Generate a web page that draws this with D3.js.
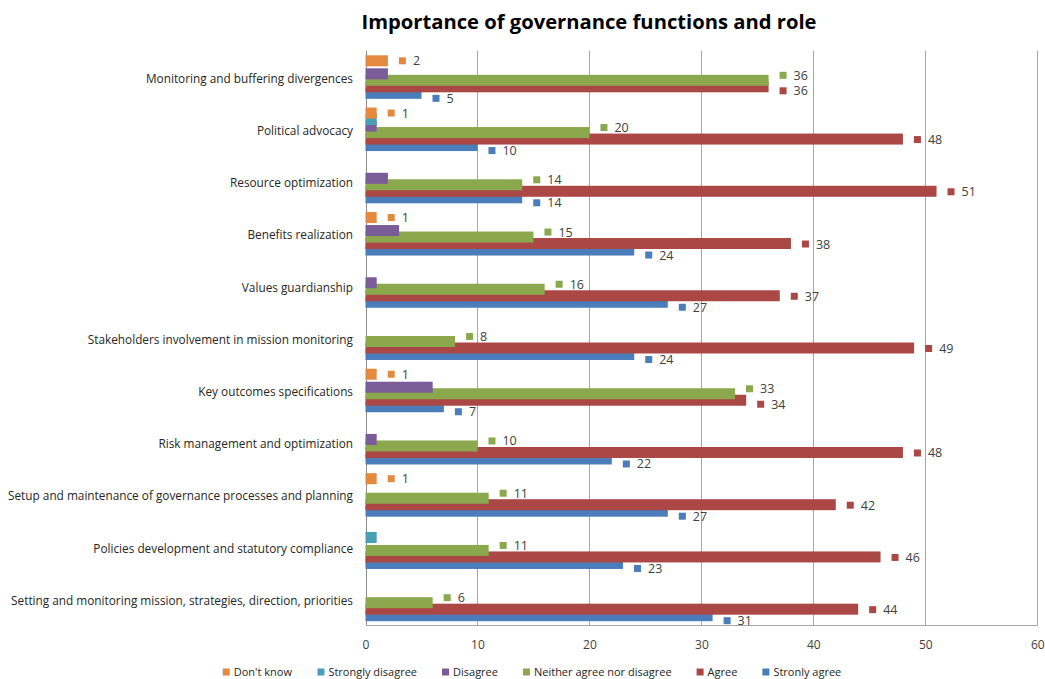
<!DOCTYPE html>
<html>
<head>
<meta charset="utf-8">
<script src="https://cdn.jsdelivr.net/npm/d3@7"></script>
<style>
  html, body { margin: 0; padding: 0; background: #fff; }
  svg { display: block; font-family: "Open Sans", "Liberation Sans", Arial, sans-serif; }
</style>
</head>
<body>
<svg id="chart" width="1045" height="679"></svg>
<script>
const categories = [
  "Monitoring and buffering divergences",
  "Political advocacy",
  "Resource optimization",
  "Benefits realization",
  "Values guardianship",
  "Stakeholders involvement in mission monitoring",
  "Key outcomes specifications",
  "Risk management and optimization ",
  "Setup and maintenance of governance processes and planning",
  "Policies development and statutory compliance",
  "Setting and monitoring mission, strategies, direction, priorities"
];
const seriesNames = ["Don't know", "Strongly disagree", "Disagree", "Neither agree nor disagree", "Agree", "Stronly agree"];
const dontKnow        = [2, 1, 0, 1, 0, 0, 1, 0, 1, 0, 0];
const stronglyDisagree= [0, 1, 0, 0, 0, 0, 0, 0, 0, 1, 0];
const disagree        = [2, 1, 2, 3, 1, 0, 6, 1, 0, 0, 0];
const neither         = [36, 20, 14, 15, 16, 8, 33, 10, 11, 11, 6];
const agree           = [36, 48, 51, 38, 37, 49, 34, 48, 42, 46, 44];
const stronglyAgree   = [5, 10, 14, 24, 27, 24, 7, 22, 27, 23, 31];
const xTicks = [0, 10, 20, 30, 40, 50, 60];
const title = "Importance of governance functions and role";

const seriesValues = [dontKnow, stronglyDisagree, disagree, neither, agree, stronglyAgree];
const colors = ["#E5893F", "#4A9FB5", "#7A5C99", "#8CA84E", "#AB4845", "#4A7DBA"];
const showLabel = [true, false, false, true, true, true];
const FONT = "Open Sans, Liberation Sans, Arial, sans-serif";

const svg = d3.select("#chart");
const plotLeft = 365.5, plotRight = 1037.3, plotTop = 50.7, plotBottom = 625.3;

const x = d3.scaleLinear().domain([0, 60]).range([plotLeft, plotRight]);
const y = d3.scaleBand().domain(categories).range([plotTop, plotBottom]).padding(0);
const bw = y.bandwidth();
const k = bw / 52.24;
const barOffset = d3.scaleLinear().domain([0, 5]).range([-21.5 * k, 11 * k]);
const barH = 11 * k;
const labelOffset = [-16, 0, 0, -1.5, 10.5, 21.5];

svg.append("text")
  .attr("x", 589).attr("y", 29)
  .attr("text-anchor", "middle")
  .attr("font-size", 20.2).attr("font-weight", "bold")
  .attr("fill", "#000")
  .text(title);

const grid = svg.append("g");
xTicks.forEach(t => {
  const gx = Math.round(x(t)) + 0.5;
  grid.append("line")
    .attr("x1", gx).attr("x2", gx)
    .attr("y1", plotTop).attr("y2", plotBottom)
    .attr("stroke", t === 0 ? "#8c8c8c" : "#a6a6a6").attr("stroke-width", 1);
});
grid.append("line")
  .attr("x1", Math.round(x(0)) + 0.5).attr("x2", Math.round(x(60)) + 0.5)
  .attr("y1", Math.round(plotBottom) + 0.5).attr("y2", Math.round(plotBottom) + 0.5)
  .attr("stroke", "#a6a6a6");

const xAxis = d3.axisBottom(x).tickValues(xTicks).tickSize(0).tickPadding(0);
const xg = svg.append("g").attr("transform", `translate(0,${plotBottom + 14})`).call(xAxis);
xg.select(".domain").remove();
xg.selectAll("text").attr("font-size", 12).attr("fill", "#404040")
  .attr("font-family", FONT).attr("dy", "0.8em");

const yAxis = d3.axisLeft(y).tickSize(0).tickPadding(0);
const yg = svg.append("g").attr("transform", `translate(353,0)`).call(yAxis);
yg.select(".domain").remove();
yg.selectAll("text").attr("font-size", 11.8).attr("fill", "#262626")
  .attr("font-family", FONT)
  .attr("dy", "0.32em")
  .attr("transform", "translate(0,2)");

const barsG = svg.append("g");
for (let s = 5; s >= 0; s--) {
  const data = categories.map((c, i) => ({ c, v: seriesValues[s][i] })).filter(d => d.v > 0);
  barsG.selectAll(null).data(data).enter().append("rect")
    .attr("x", x(0))
    .attr("y", d => y(d.c) + bw / 2 + barOffset(s))
    .attr("width", d => x(d.v) - x(0))
    .attr("height", barH)
    .attr("fill", colors[s]);
}

const labG = svg.append("g");
for (let s = 0; s < 6; s++) {
  if (!showLabel[s]) continue;
  categories.forEach((c, i) => {
    const v = seriesValues[s][i];
    if (v <= 0) return;
    let off = labelOffset[s];
    if (s === 4 && Math.abs(neither[i] - agree[i]) <= 3) off = 14;
    const cy = y(c) + bw / 2 + off;
    const bx = x(v);
    labG.append("rect")
      .attr("x", bx + 11).attr("y", cy - 3.5)
      .attr("width", 7).attr("height", 7)
      .attr("fill", colors[s]);
    labG.append("text")
      .attr("x", bx + 25).attr("y", cy)
      .attr("dy", "0.36em")
      .attr("font-size", 12.5).attr("fill", "#404040")
      .text(v);
  });
}

const legend = svg.append("g");
const items = legend.selectAll("g").data(seriesNames).enter().append("g");
items.append("rect").attr("width", 7).attr("height", 7).attr("y", -3.5)
  .attr("fill", (d, i) => colors[i]);
items.append("text").attr("x", 11).attr("dy", "0.35em")
  .attr("font-size", 11).attr("fill", "#262626").text(d => d);
const widths = [];
items.each(function () { widths.push(this.getBBox().width); });
const gap = 25;
const total = d3.sum(widths) + gap * (widths.length - 1);
let lx = 532 - total / 2;
items.attr("transform", (d, i) => {
  const t = `translate(${lx},672)`;
  lx += widths[i] + gap;
  return t;
});
</script>
</body>
</html>
